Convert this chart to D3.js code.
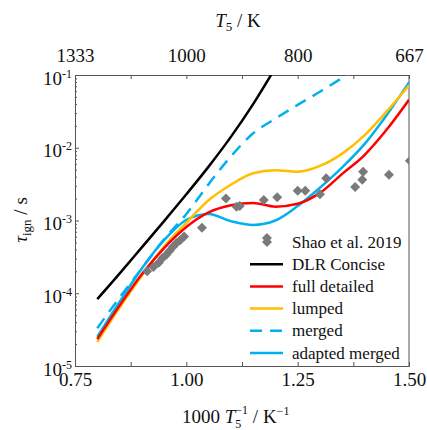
<!DOCTYPE html>
<html>
<head>
<meta charset="utf-8">
<script src="https://cdn.jsdelivr.net/npm/d3@7/dist/d3.min.js"></script>
<style>
  body { margin: 0; background: white; }
</style>
</head>
<body>
<div id="container"></div>
<script>
let w = 427;
let h = 430;
let padLeft = 75, padRight = 409, padTop = 75, padBottom = 366;
let serif = "'Liberation Serif', 'Times New Roman', Times, 'DejaVu Serif', serif";

// 1000/T5 grid (1/K) used by the simulated curves
let invT = [0.80, 0.85, 0.90, 0.95, 1.00, 1.05, 1.10, 1.15, 1.20, 1.25, 1.30, 1.35, 1.40, 1.45, 1.50];

// ignition delay times in s
let dlrConcise   = [8.3e-5, 1.86e-4, 4.27e-4, 9.8e-4, 2.29e-3, 5.5e-3, 1.41e-2, 3.98e-2, 1.26e-1];
let fullDetailed = [2.34e-5, 6.76e-5, 1.82e-4, 4.17e-4, 8.13e-4, 1.29e-3, 1.62e-3, 1.74e-3, 1.55e-3, 1.70e-3, 2.40e-3, 4.37e-3, 7.94e-3, 1.78e-2, 4.57e-2];
let lumped       = [2.14e-5, 6.3e-5, 1.74e-4, 4.37e-4, 9.3e-4, 1.9e-3, 3.1e-3, 4.47e-3, 4.9e-3, 4.68e-3, 5.62e-3, 8.3e-3, 1.48e-2, 3.16e-2, 7.24e-2];
let merged       = [3.31e-5, 8.71e-5, 2.19e-4, 5.5e-4, 1.23e-3, 3.16e-3, 7.59e-3, 1.58e-2, 2.51e-2, 3.89e-2, 5.89e-2, 9.12e-2, 1.41e-1];
let adaptedMerged = [2.51e-5, 7.59e-5, 2.19e-4, 5.37e-4, 1.02e-3, 1.23e-3, 9.8e-4, 8.7e-4, 1.0e-3, 1.58e-3, 2.82e-3, 5.37e-3, 1.12e-2, 2.82e-2, 7.94e-2];

// Shao et al. 2019 measurements
let shaoInvT = [0.912, 0.926, 0.938, 0.946, 0.955, 0.962, 0.970, 0.978, 0.986, 0.995, 1.035, 1.089, 1.113, 1.120, 1.174, 1.181, 1.204, 1.250, 1.267, 1.300, 1.314, 1.379, 1.395, 1.397, 1.455, 1.502];
let shaoTau  = [2.0e-4, 2.29e-4, 2.63e-4, 3.02e-4, 3.39e-4, 3.80e-4, 4.37e-4, 4.90e-4, 5.37e-4, 6.03e-4, 7.94e-4, 2.0e-3, 1.55e-3, 1.58e-3, 1.91e-3, 5.75e-4, 2.09e-3, 2.57e-3, 2.57e-3, 2.29e-3, 3.80e-3, 2.88e-3, 3.63e-3, 4.68e-3, 4.27e-3, 6.61e-3];

let xTicks = [0.75, 1.00, 1.25, 1.50];
let xMinor = [0.875, 1.125, 1.375];
let yDecades = [1e-5, 1e-4, 1e-3, 1e-2, 1e-1];

let series = [
  {name: "DLR Concise", values: dlrConcise, color: "black", dash: null},
  {name: "full detailed", values: fullDetailed, color: "#ff0000", dash: null},
  {name: "lumped", values: lumped, color: "#ffbe00", dash: null},
  {name: "merged", values: merged, color: "#00b0f0", dash: "12,8"},
  {name: "adapted merged", values: adaptedMerged, color: "#00b0f0", dash: null}
];

let viz = d3.select("#container").append("svg")
    .attr("width", w)
    .attr("height", h)
    .style("background-color", "white")
;

let x = d3.scaleLinear().domain([0.75, 1.5]).range([padLeft, padRight]);
let y = d3.scaleLog().domain([1e-5, 1e-1]).range([padBottom, padTop]);

viz.append("clipPath").attr("id", "plotClip")
  .append("rect")
    .attr("x", padLeft).attr("y", padTop)
    .attr("width", padRight - padLeft).attr("height", padBottom - padTop);

// axes
let axisColor = "#555";

let bottomAxis = viz.append("g")
    .attr("transform", "translate(0," + padBottom + ")")
    .call(d3.axisBottom(x).tickValues(xTicks.concat(xMinor)).tickSize(-4).tickPadding(7)
      .tickFormat(d => xTicks.includes(d) ? d3.format(".2f")(d) : ""));

let topAxis = viz.append("g")
    .attr("transform", "translate(0," + padTop + ")")
    .call(d3.axisTop(x).tickValues(xTicks.concat(xMinor)).tickSize(-4).tickPadding(13)
      .tickFormat(d => xTicks.includes(d) ? Math.round(1000 / d) : ""));

let minorY = [];
yDecades.slice(0, -1).forEach(function(dec) {
  for (let k = 2; k <= 9; k++) minorY.push(dec * k);
});

let leftMinor = viz.append("g")
    .attr("transform", "translate(" + padLeft + ",0)")
    .call(d3.axisLeft(y).tickValues(minorY).tickSize(-2).tickFormat(""));

let leftAxis = viz.append("g")
    .attr("transform", "translate(" + padLeft + ",0)")
    .call(d3.axisLeft(y).tickValues(yDecades).tickSize(-4).tickFormat(""));

leftAxis.selectAll(".tick").each(function(d) {
  let t = d3.select(this).append("text")
      .attr("x", -3)
      .attr("y", 9)
      .attr("text-anchor", "end")
      .attr("font-size", 19);
  t.append("tspan").text("10");
  t.append("tspan").attr("dy", -7).attr("font-size", 12).text("-" + Math.round(-Math.log10(d)));
});

// right axis line, no ticks
viz.append("line")
    .attr("x1", padRight).attr("x2", padRight)
    .attr("y1", padTop).attr("y2", padBottom)
    .attr("stroke", axisColor);

viz.selectAll(".domain").attr("stroke", axisColor);
viz.selectAll(".tick line").attr("stroke", axisColor);
bottomAxis.selectAll("text").attr("font-size", 19);
topAxis.selectAll("text").attr("font-size", 19);

// curves
let lineMaker = d3.line()
    .x((d, i) => x(invT[i]))
    .y(d => y(d))
    .curve(d3.curveMonotoneX);

let curveGroup = viz.append("g").attr("clip-path", "url(#plotClip)");

curveGroup.selectAll(".curve").data(series.slice().reverse()).enter()
  .append("path")
    .attr("class", "curve")
    .attr("d", d => lineMaker(d.values))
    .attr("fill", "none")
    .attr("stroke", d => d.color)
    .attr("stroke-width", 2.5)
    .attr("stroke-dasharray", d => d.dash)
;

// measurements
let diamond = d3.symbol().type(d3.symbolSquare).size(50);
curveGroup.selectAll(".shao").data(shaoInvT).enter()
  .append("path")
    .attr("class", "shao")
    .attr("d", diamond)
    .attr("transform", (d, i) => "translate(" + x(d) + "," + y(shaoTau[i]) + ") rotate(45)")
    .attr("fill", "#7a7a7a")
;

// legend
let legend = viz.append("g").attr("transform", "translate(250,242)");
let rowH = 22.2;
legend.append("path")
    .attr("d", diamond)
    .attr("transform", "translate(17,0) rotate(45)")
    .attr("fill", "#7a7a7a");
legend.append("text").attr("x", 42).attr("y", 5.5).attr("font-size", 17).text("Shao et al. 2019");

series.forEach(function(s, i) {
  let yy = (i + 1) * rowH;
  legend.append("line")
      .attr("x1", 0).attr("x2", 33)
      .attr("y1", yy).attr("y2", yy)
      .attr("stroke", s.color)
      .attr("stroke-width", 2.5)
      .attr("stroke-dasharray", s.dash);
  legend.append("text").attr("x", 42).attr("y", yy + 5.5).attr("font-size", 17).text(s.name);
});

// axis titles
let topTitle = viz.append("text")
    .attr("x", 238).attr("y", 27)
    .attr("text-anchor", "middle")
    .attr("font-size", 19);
topTitle.append("tspan").attr("font-style", "italic").text("T");
topTitle.append("tspan").attr("font-size", 13).attr("dy", 4).text("5");
topTitle.append("tspan").attr("dy", -4).text(" / K");

let bottomTitle = viz.append("text")
    .attr("x", 182).attr("y", 423)
    .attr("font-size", 19);
bottomTitle.append("tspan").text("1000 ");
bottomTitle.append("tspan").attr("font-style", "italic").text("T");
let sup = bottomTitle.append("tspan").attr("font-size", 12).attr("dy", -9).text("\u22121");
let sub = bottomTitle.append("tspan").attr("font-size", 12).attr("dy", 14).text("5");
let restTitle = bottomTitle.append("tspan").attr("dy", -5).text(" / K");
bottomTitle.append("tspan").attr("font-size", 12).attr("dy", -8).text("\u22121");

let yTitle = viz.append("text")
    .attr("transform", "translate(27,220) rotate(-90)")
    .attr("text-anchor", "middle")
    .attr("font-size", 19);
yTitle.append("tspan").attr("font-style", "italic").text("\u03c4");
yTitle.append("tspan").attr("font-size", 13).attr("dy", 4).text("ign");
yTitle.append("tspan").attr("dy", -4).text(" / s");

viz.selectAll("text").style("font-family", serif).style("fill", "#111");

// stack the subscript 5 under the superscript -1
let supW = sup.node().getComputedTextLength();
let subW = sub.node().getComputedTextLength();
sub.attr("dx", -supW);
restTitle.attr("dx", supW - subW);
</script>
</body>
</html>
